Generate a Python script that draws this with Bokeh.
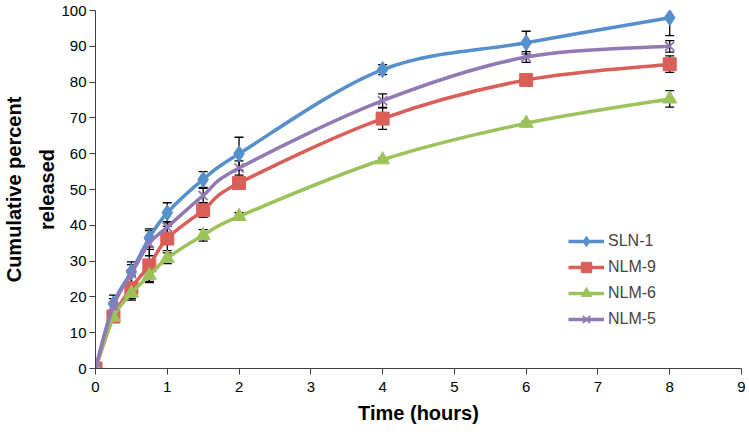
import numpy as np
from bokeh.plotting import figure
from bokeh.models import ColumnDataSource, Whisker, TeeHead, Legend, LegendItem, Range1d, FixedTicker
from bokeh.embed import file_html
from bokeh.resources import INLINE

# ---- data ----
time_h = [0, 0.25, 0.5, 0.75, 1, 1.5, 2, 4, 6, 8]
sln1 = [0, 18, 27, 36.5, 43.5, 52.8, 60, 83.5, 91, 98]
sln1_err = [0, 2.5, 2.8, 2.5, 2.8, 2.2, 4.6, 1.4, 3.2, 5]
nlm9 = [0, 14.5, 22.5, 28.8, 36.3, 44.2, 51.8, 69.8, 80.6, 85]
nlm9_err = [0, 1.5, 3.4, 4.5, 3.4, 2, 1, 3, 1.2, 2.3]
nlm6 = [0, 14.3, 21, 26, 30.8, 37.2, 42.5, 58.3, 68.5, 75.3]
nlm6_err = [0, 1, 1.5, 2, 1.5, 1.6, 1, 0.5, 0.5, 2.3]
nlm5 = [0, 17.5, 26.5, 35, 39.5, 48.3, 56, 74.8, 87, 90]
nlm5_err = [0, 2, 2.5, 3.5, 1.5, 2, 2, 1.9, 1.5, 1.6]

series_names = ["SLN-1", "NLM-9", "NLM-6", "NLM-5"]
x_ticks = list(range(0, 10))
y_ticks = list(range(0, 101, 10))

FONT = "Liberation Sans"

p = figure(width=749, height=437, output_backend="svg", toolbar_location=None,
           x_range=Range1d(0, 9), y_range=Range1d(0, 100),
           min_border_left=94, min_border_right=8, min_border_top=10, min_border_bottom=69)
p.grid.visible = False
p.outline_line_color = None

for ax in (p.xaxis[0], p.yaxis[0]):
    ax.axis_line_color = "#404040"
    ax.major_tick_line_color = "#404040"
    ax.minor_tick_line_color = None
    ax.major_tick_in = 0
    ax.major_tick_out = 6
    ax.major_label_text_font = FONT
    ax.major_label_text_font_size = "15px"
    ax.major_label_text_color = "black"
    ax.axis_label_text_font = FONT
    ax.axis_label_text_font_style = "bold"
    ax.axis_label_text_font_size = "20px"
    ax.axis_label_text_color = "black"

p.xaxis.ticker = FixedTicker(ticks=x_ticks)
p.yaxis.ticker = FixedTicker(ticks=y_ticks)
p.xaxis.axis_label = "Time (hours)"
p.xaxis.major_label_standoff = 7
p.xaxis.axis_label_standoff = 7
p.yaxis.axis_label = "Cumulative percent\nreleased"
p.yaxis.major_label_standoff = 3
p.yaxis.axis_label_standoff = 0
p.yaxis.axis_label_text_line_height = 1.5


def smooth_segments(xs, ys):
    xs = np.asarray(xs, float)
    ys = np.asarray(ys, float)
    xp = np.concatenate([[xs[0]], xs, [xs[-1]]])
    yp = np.concatenate([[ys[0]], ys, [ys[-1]]])
    n = len(xs) - 1
    d = dict(x0=[], y0=[], x1=[], y1=[], cx0=[], cy0=[], cx1=[], cy1=[])
    for i in range(n):
        p0 = (xp[i], yp[i]); p1 = (xp[i + 1], yp[i + 1])
        p2 = (xp[i + 2], yp[i + 2]); p3 = (xp[i + 3], yp[i + 3])
        d["x0"].append(p1[0]); d["y0"].append(p1[1])
        d["x1"].append(p2[0]); d["y1"].append(p2[1])
        d["cx0"].append(p1[0] + (p2[0] - p0[0]) / 6)
        d["cy0"].append(p1[1] + (p2[1] - p0[1]) / 6)
        d["cx1"].append(p2[0] - (p3[0] - p1[0]) / 6)
        d["cy1"].append(p2[1] - (p3[1] - p1[1]) / 6)
    return ColumnDataSource(d)


colors = ["#5590CC", "#DA5F58", "#9CC35A", "#9179B6"]
markers = ["diamond", "square", "triangle", "x"]
sizes = [16, 13, 14, 13]
values = [sln1, nlm9, nlm6, nlm5]
errors = [sln1_err, nlm9_err, nlm6_err, nlm5_err]

items = []
for name, col, mk, sz, ys in zip(series_names, colors, markers, sizes, values):
    seg = smooth_segments(time_h, ys)
    r_line = p.bezier(x0="x0", y0="y0", x1="x1", y1="y1", cx0="cx0", cy0="cy0",
                      cx1="cx1", cy1="cy1", source=seg, line_color=col, line_width=3.5)
    if mk == "x":
        r_pt = p.scatter(time_h, ys, marker=mk, size=sz, line_color=col, line_width=1.8)
    else:
        r_pt = p.scatter(time_h, ys, marker=mk, size=sz, fill_color=col, line_color=col)
    items.append(LegendItem(label=name, renderers=[r_line, r_pt]))

for ys, es in zip(values, errors):
    src = ColumnDataSource(dict(x=time_h,
                                upper=[v + e for v, e in zip(ys, es)],
                                lower=[v - e for v, e in zip(ys, es)]))
    w = Whisker(base="x", upper="upper", lower="lower", source=src, dimension="height",
                line_color="black", line_width=1.3,
                upper_head=TeeHead(size=9, line_color="black", line_width=1.3),
                lower_head=TeeHead(size=9, line_color="black", line_width=1.3))
    p.add_layout(w)

legend = Legend(items=items, location=(473, 36), border_line_color=None,
                background_fill_alpha=0, padding=0, margin=0, spacing=0,
                glyph_width=36, glyph_height=26, label_height=26,
                label_standoff=4, label_text_font=FONT, label_text_font_size="16px")
p.add_layout(legend)

open("out.html", "w").write(file_html(p, INLINE))
